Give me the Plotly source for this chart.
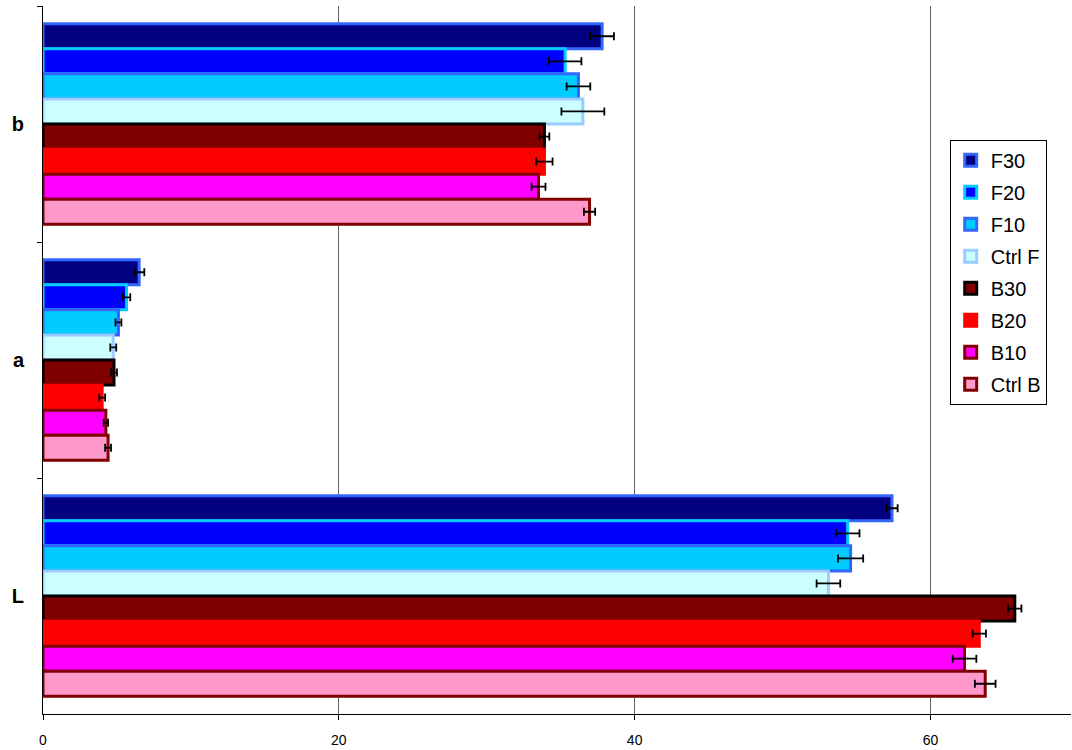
import plotly.graph_objects as go

categories = ["b", "a", "L"]
series = ["F30", "F20", "F10", "Ctrl F", "B30", "B20", "B10", "Ctrl B"]
values = {
    "F30":    [37.8, 6.5, 57.4],
    "F20":    [35.3, 5.65, 54.4],
    "F10":    [36.2, 5.1, 54.6],
    "Ctrl F": [36.5, 4.75, 53.1],
    "B30":    [33.9, 4.8, 65.7],
    "B20":    [33.9, 4.0, 63.3],
    "B10":    [33.5, 4.25, 62.3],
    "Ctrl B": [36.95, 4.4, 63.7],
}
errors = {
    "F30":    [0.8, 0.35, 0.38],
    "F20":    [1.1, 0.25, 0.8],
    "F10":    [0.8, 0.2, 0.85],
    "Ctrl F": [1.45, 0.2, 0.8],
    "B30":    [0.33, 0.2, 0.45],
    "B20":    [0.55, 0.2, 0.45],
    "B10":    [0.47, 0.15, 0.8],
    "Ctrl B": [0.38, 0.2, 0.7],
}
fills = {
    "F30": "#000080", "F20": "#0000FF", "F10": "#00CCFF", "Ctrl F": "#CCFFFF",
    "B30": "#800000", "B20": "#FF0000", "B10": "#FF00FF", "Ctrl B": "#FF99CC",
}
borders = {
    "F30": "#3366FF", "F20": "#00CCFF", "F10": "#3366FF", "Ctrl F": "#99CCFF",
    "B30": "#000000", "B20": "#FF0000", "B10": "#800000", "Ctrl B": "#800000",
}

fig = go.Figure()
for s in series:
    fig.add_trace(go.Bar(
        y=categories, x=values[s], name=s, orientation="h",
        legendgroup=s,
        marker=dict(color=fills[s], line=dict(color=borders[s], width=3)),
        error_x=dict(type="data", array=errors[s], visible=True,
                     color="black", thickness=1.8, width=4),
    ))

fig.update_layout(
    width=1072, height=750,
    margin=dict(l=43, r=1, t=6, b=36, autoexpand=False),
    paper_bgcolor="white", plot_bgcolor="white",
    barmode="group", bargap=0.15, bargroupgap=0,
    font=dict(family="Liberation Sans, Arial", color="black"),
    legend=dict(x=0.882, y=0.811, xanchor="left", yanchor="top",
                bgcolor="white", bordercolor="black", borderwidth=1,
                font=dict(size=20), tracegroupgap=3, traceorder="grouped",
                itemwidth=30),
    showlegend=True,
)
fig.update_xaxes(range=[0, 69.5], tickvals=[0, 20, 40, 60],
                 showgrid=True, gridcolor="#666666", gridwidth=1,
                 showline=True, linecolor="black", linewidth=1,
                 ticks="outside", ticklen=5, tickcolor="black",
                 tickfont=dict(size=14), zeroline=False,
                 ticklabelstandoff=8, automargin=False)
fig.update_yaxes(autorange="reversed", showline=True, linecolor="black",
                 linewidth=1, ticks="outside", ticklen=5, tickcolor="black",
                 tickson="boundaries", showgrid=False,
                 tickfont=dict(size=20, weight="bold"),
                 ticklabelstandoff=14, automargin=False)

fig.write_html("out.html", config={"displayModeBar": False},
               post_script="document.body.style.margin='0';")
